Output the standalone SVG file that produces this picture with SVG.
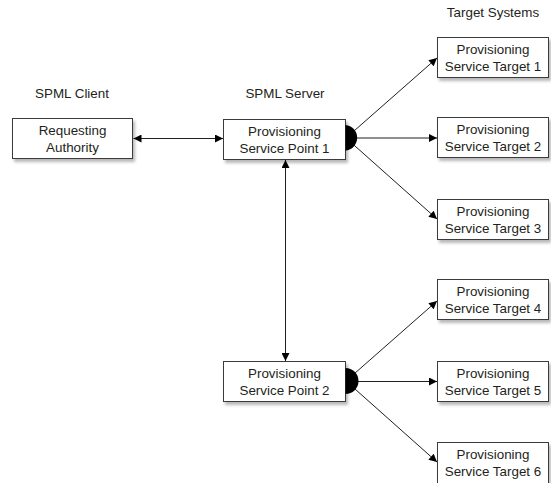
<svg xmlns="http://www.w3.org/2000/svg" width="551" height="483" viewBox="0 0 551 483">
  <style>
    .box { fill: #ffffff; stroke: #3a3a3a; stroke-width: 1; filter: url(#shadow); }
    .txt { font-family: "Liberation Sans", Arial, sans-serif; font-size: 13.4px; fill: #231f20; text-anchor: middle; }
    .link { stroke: #231f20; stroke-width: 1; fill: none; }
    .hub { fill: #000000; }
  </style>
  <defs>
    <filter id="shadow" x="-10%" y="-20%" width="125%" height="150%">
      <feDropShadow dx="2" dy="3" stdDeviation="1.8" flood-color="#000" flood-opacity="0.28"/>
    </filter>
    <marker id="arrow" viewBox="0 0 10 10" refX="10" refY="5" markerWidth="9" markerHeight="8" markerUnits="userSpaceOnUse" orient="auto-start-reverse">
      <path d="M0,0 L10,5 L0,10 Z" fill="#000"/>
    </marker>
  </defs>

  <!-- column headings -->
  <g id="headings">
    <text class="txt" x="72" y="98">SPML Client</text>
    <text class="txt" x="285" y="98">SPML Server</text>
    <text class="txt" x="493" y="17">Target Systems</text>
  </g>

  <!-- connectors -->
  <g id="connectors">
    <line class="link" x1="133.5" y1="138.5" x2="223" y2="138.5" marker-start="url(#arrow)" marker-end="url(#arrow)"/>
    <line class="link" x1="285.5" y1="160" x2="285.5" y2="361" marker-start="url(#arrow)" marker-end="url(#arrow)"/>
    <line class="link" x1="346" y1="138" x2="437" y2="58" marker-end="url(#arrow)"/>
    <line class="link" x1="346" y1="138" x2="437" y2="138" marker-end="url(#arrow)"/>
    <line class="link" x1="346" y1="138" x2="437" y2="219" marker-end="url(#arrow)"/>
    <line class="link" x1="346" y1="381" x2="437" y2="301" marker-end="url(#arrow)"/>
    <line class="link" x1="346" y1="381.5" x2="437" y2="381.5" marker-end="url(#arrow)"/>
    <line class="link" x1="346" y1="381" x2="437" y2="462" marker-end="url(#arrow)"/>
  </g>

  <g id="requesting-authority">
    <rect class="box" x="12.5" y="118.5" width="120" height="40"/>
    <text class="txt" x="72.5" y="135">Requesting</text>
    <text class="txt" x="72.5" y="152">Authority</text>
  </g>

  <g id="psp1">
    <rect class="box" x="223.5" y="119.5" width="122" height="40"/>
    <path class="hub" d="M345.5,125 A12.8,12.8 0 0 1 345.5,150.5 Z"/>
    <text class="txt" x="284.5" y="135.5">Provisioning</text>
    <text class="txt" x="284.5" y="152.5">Service Point 1</text>
  </g>

  <g id="psp2">
    <rect class="box" x="223.5" y="361.5" width="122" height="40"/>
    <path class="hub" d="M345.5,368 A13,13 0 0 1 345.5,394 Z"/>
    <text class="txt" x="284.5" y="377.5">Provisioning</text>
    <text class="txt" x="284.5" y="394.5">Service Point 2</text>
  </g>

  <g id="target1">
    <rect class="box" x="437.5" y="37.5" width="111" height="40"/>
    <text class="txt" x="493" y="54">Provisioning</text>
    <text class="txt" x="493" y="71">Service Target 1</text>
  </g>

  <g id="target2">
    <rect class="box" x="437.5" y="117.5" width="111" height="40"/>
    <text class="txt" x="493" y="134">Provisioning</text>
    <text class="txt" x="493" y="151">Service Target 2</text>
  </g>

  <g id="target3">
    <rect class="box" x="437.5" y="199.5" width="111" height="40"/>
    <text class="txt" x="493" y="216">Provisioning</text>
    <text class="txt" x="493" y="233">Service Target 3</text>
  </g>

  <g id="target4">
    <rect class="box" x="437.5" y="279.5" width="111" height="40"/>
    <text class="txt" x="493" y="296">Provisioning</text>
    <text class="txt" x="493" y="313">Service Target 4</text>
  </g>

  <g id="target5">
    <rect class="box" x="437.5" y="361.5" width="111" height="40"/>
    <text class="txt" x="493" y="378">Provisioning</text>
    <text class="txt" x="493" y="395">Service Target 5</text>
  </g>

  <g id="target6">
    <rect class="box" x="437.5" y="442.5" width="111" height="41"/>
    <text class="txt" x="493" y="459">Provisioning</text>
    <text class="txt" x="493" y="476">Service Target 6</text>
  </g>
</svg>
